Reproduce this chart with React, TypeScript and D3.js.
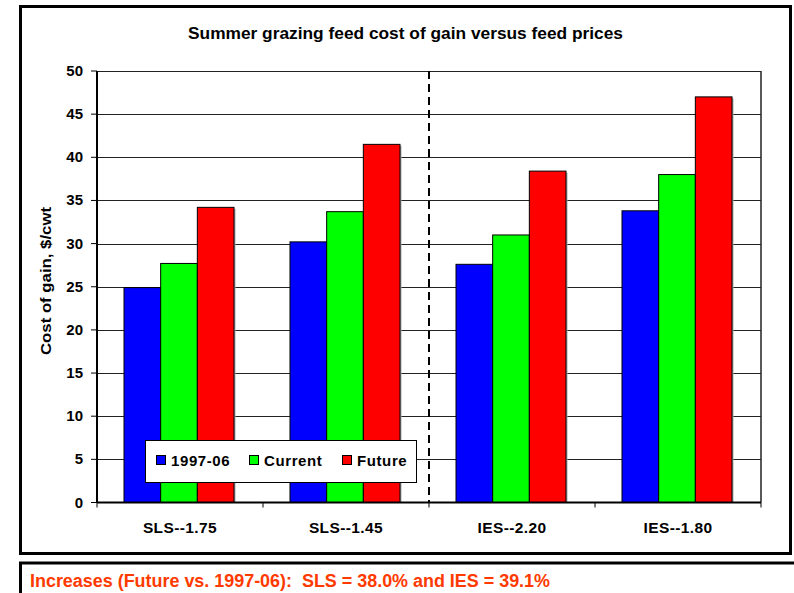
import React from "react";
import * as d3 from "d3";

const categories = ["SLS--1.75", "SLS--1.45", "IES--2.20", "IES--1.80"];
const seriesNames = ["1997-06", "Current", "Future"];
const seriesColors = ["#0000FF", "#00FF00", "#FF0000"];
const values1997 = [24.9, 30.2, 27.6, 33.8];
const valuesCurrent = [27.7, 33.7, 31.0, 38.0];
const valuesFuture = [34.2, 41.5, 38.4, 47.0];
const yTicks = [0, 5, 10, 15, 20, 25, 30, 35, 40, 45, 50];
const titleText = "Summer grazing feed cost of gain versus feed prices";
const yAxisTitle = "Cost of gain, $/cwt";
const footnote = "Increases (Future vs. 1997-06):  SLS = 38.0% and IES = 39.1%";

const seriesValues = [values1997, valuesCurrent, valuesFuture];

export default function App() {
  const W = 794, H = 593;
  const left = 97, right = 761, top = 71, bottom = 502.5;
  const x0 = d3.scaleBand<string>().domain(categories).range([left, right]).padding(0);
  const groupW = 110;
  const groupOff = 27;
  const x1 = d3.scaleBand<string>().domain(seriesNames).range([0, groupW]).padding(0);
  const y = d3.scaleLinear().domain([0, 50]).range([bottom, top]);
  const font = "'Liberation Sans', Arial, sans-serif";
  const boundaries = [1, 2, 3, 4].map((i) => left + i * x0.bandwidth());
  const dashX = x0(categories[2]) as number;

  return (
    <svg width={W} height={H} style={{ position: "absolute", left: 0, top: 0 }} fontFamily={font}>
      <rect x={0} y={0} width={W} height={H} fill="#fff" />
      {/* outer chart box */}
      <rect x={22} y={8} width={770} height={547} fill="#999" />
      <rect x={20.5} y={6.5} width={770} height={547} fill="#fff" stroke="#000" strokeWidth={3} />
      {/* bottom note box */}
      <rect x={20.5} y={563} width={790} height={50} fill="#fff" stroke="#000" strokeWidth={3} />
      <text x={30} y={587} fontSize={18} fontWeight="bold" fill="#FF3A00" textLength={520} lengthAdjust="spacingAndGlyphs" style={{ whiteSpace: "pre" }}>
        {footnote}
      </text>

      {/* title */}
      <text x={405.5} y={39} textAnchor="middle" fontSize={17} fontWeight="bold" textLength={435} lengthAdjust="spacingAndGlyphs">
        {titleText}
      </text>

      {/* gridlines */}
      {yTicks.filter((t) => t > 0).map((t) => (
        <line key={"g" + t} x1={left} x2={right} y1={Math.round(y(t)) + 0.5} y2={Math.round(y(t)) + 0.5} stroke="#222" strokeWidth={1} />
      ))}
      {/* plot frame right */}
      <line x1={right} x2={right} y1={top} y2={bottom} stroke="#222" strokeWidth={1.5} />

      {/* dashed separator */}
      <line x1={dashX} x2={dashX} y1={top} y2={bottom} stroke="#000" strokeWidth={2} strokeDasharray="8,5" />

      {/* bars */}
      {categories.map((c, ci) => (
        <g key={c}>
          {seriesNames.map((s, si) => {
            const bx = (x0(c) as number) + groupOff + (x1(s) as number);
            const by = y(seriesValues[si][ci]);
            return (
              <g key={s}>
                <rect x={bx + 1.5} y={by + 1.5} width={x1.bandwidth()} height={bottom - by - 1.5} fill="#aaa" />
                <rect x={bx} y={by} width={x1.bandwidth()} height={bottom - by} fill={seriesColors[si]} stroke="#000" strokeWidth={1} />
              </g>
            );
          })}
        </g>
      ))}

      {/* axes */}
      <line x1={left} x2={left} y1={top} y2={bottom} stroke="#000" strokeWidth={2} />
      <line x1={left} x2={right} y1={bottom} y2={bottom} stroke="#000" strokeWidth={2} />
      {yTicks.map((t) => (
        <g key={"t" + t}>
          <line x1={left - 6} x2={left} y1={y(t)} y2={y(t)} stroke="#000" strokeWidth={1} />
          <text x={83} y={y(t) + 5} textAnchor="end" fontSize={15} fontWeight="bold">
            {t}
          </text>
        </g>
      ))}
      {[left, ...boundaries].map((bx, i) => (
        <line key={"xt" + i} x1={bx} x2={bx} y1={bottom} y2={bottom + 5} stroke="#000" strokeWidth={1} />
      ))}
      {categories.map((c) => (
        <text key={"cl" + c} x={(x0(c) as number) + x0.bandwidth() / 2} y={533} textAnchor="middle" fontSize={15.5} fontWeight="bold" letterSpacing={0.4}>
          {c}
        </text>
      ))}

      {/* y axis title */}
      <text transform="translate(51,281) rotate(-90)" textAnchor="middle" fontSize={15} fontWeight="bold" textLength={148} lengthAdjust="spacingAndGlyphs">
        {yAxisTitle}
      </text>

      {/* legend */}
      <rect x={145.5} y={440.5} width={271} height={42} fill="#fff" stroke="#000" strokeWidth={1} />
      {seriesNames.map((s, i) => {
        const lx = [156, 249, 342][i];
        return (
          <g key={"lg" + s}>
            <rect x={lx + 0.5} y={455.5} width={9} height={9} fill={seriesColors[i]} stroke="#000" strokeWidth={1} />
            <text x={lx + 15} y={466} fontSize={15} fontWeight="bold" letterSpacing={0.6}>
              {s}
            </text>
          </g>
        );
      })}
    </svg>
  );
}
